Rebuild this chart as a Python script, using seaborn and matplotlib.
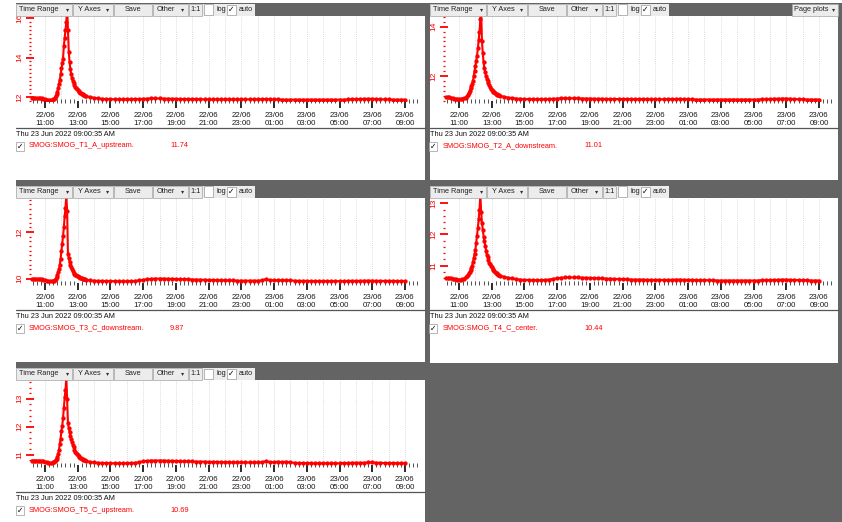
import numpy as np
import pandas as pd
import matplotlib
matplotlib.use("Agg")
import matplotlib.pyplot as plt
from matplotlib.patches import Rectangle
from matplotlib.ticker import FixedLocator, MultipleLocator
import seaborn as sns

# ---------------- data ----------------
# sample times, hours since 22/06 00:00 (archiver sampling grid)
hours = np.round(np.concatenate([
    np.arange(10.2, 11.51, 0.1),
    np.arange(11.55, 13.501, 0.05),
    np.arange(13.75, 33.001, 0.25),
]), 2)

t1_a_upstream = [
    11.95, 11.95, 11.94, 11.95, 11.94, 11.94, 11.93, 11.91, 11.88, 11.86, 11.85, 11.85, 11.86, 11.88,
    11.92, 11.97, 12.05, 12.15, 12.28, 12.45, 12.65, 12.88, 13.15, 13.45,
    13.70, 13.95, 14.60, 15.00, 15.40, 15.80, 16.50, 15.40, 14.30, 13.75,
    13.40, 13.15, 12.95, 12.82, 12.70, 12.62, 12.53, 12.46, 12.40, 12.35,
    12.30, 12.26, 12.22, 12.19, 12.16, 12.13, 12.11, 12.09, 12.07, 12.05,
    12.00,
    11.96, 11.93, 11.91, 11.90, 11.89, 11.89, 11.88, 11.88, 11.88, 11.88, 11.89, 11.90,
    11.91, 11.92, 11.93, 11.93, 11.93, 11.92, 11.92, 11.91, 11.91, 11.90, 11.90, 11.89,
    11.89, 11.89, 11.89, 11.88, 11.88, 11.88, 11.88, 11.88, 11.88, 11.88, 11.88, 11.88,
    11.88, 11.88, 11.89, 11.88, 11.88, 11.89, 11.90, 11.88, 11.88, 11.88, 11.87, 11.87,
    11.87, 11.87, 11.87, 11.87, 11.87, 11.87, 11.87, 11.87, 11.87, 11.87, 11.87, 11.87,
    11.87, 11.87, 11.88, 11.88, 11.89, 11.90, 11.91, 11.91, 11.91, 11.90, 11.89, 11.88,
    11.88, 11.87, 11.87, 11.87, 11.87,
]

t2_a_downstream = [
    11.15, 11.15, 11.14, 11.13, 11.11, 11.09, 11.08, 11.07, 11.07, 11.07, 11.08, 11.10, 11.13, 11.18,
    11.25, 11.33, 11.41, 11.50, 11.60, 11.69, 11.80, 12.00, 12.20, 12.42,
    12.62, 12.83, 13.12, 13.45, 13.80, 14.30, 14.70, 13.40, 12.92, 12.55,
    12.31, 12.15, 12.00, 11.90, 11.80, 11.70, 11.62, 11.55, 11.49, 11.43,
    11.40, 11.37, 11.34, 11.31, 11.28, 11.26, 11.25, 11.23, 11.22, 11.21,
    11.16,
    11.13, 11.11, 11.09, 11.08, 11.07, 11.07, 11.06, 11.06, 11.06, 11.06, 11.07, 11.08,
    11.09, 11.10, 11.10, 11.10, 11.10, 11.10, 11.09, 11.09, 11.09, 11.08, 11.08, 11.08,
    11.07, 11.07, 11.07, 11.07, 11.07, 11.07, 11.06, 11.06, 11.06, 11.06, 11.06, 11.06,
    11.06, 11.06, 11.06, 11.06, 11.06, 11.07, 11.08, 11.06, 11.06, 11.06, 11.05, 11.05,
    11.05, 11.05, 11.05, 11.05, 11.05, 11.05, 11.05, 11.05, 11.05, 11.05, 11.05, 11.05,
    11.05, 11.05, 11.06, 11.06, 11.07, 11.08, 11.08, 11.09, 11.09, 11.08, 11.07, 11.06,
    11.06, 11.05, 11.05, 11.05, 11.05,
]

t3_c_downstream = [
    9.99, 9.99, 9.98, 9.99, 9.98, 9.98, 9.97, 9.96, 9.93, 9.90, 9.88, 9.88, 9.88, 9.89,
    9.91, 9.95, 10.00, 10.07, 10.16, 10.27, 10.40, 10.60, 10.86, 11.17,
    11.47, 11.82, 12.20, 12.70, 13.05, 13.60, 12.90, 11.05, 10.88, 10.72,
    10.60, 10.50, 10.40, 10.31, 10.25, 10.20, 10.17, 10.14, 10.11, 10.09,
    10.07, 10.05, 10.04, 10.02, 10.01, 10.00, 9.99, 9.98, 9.97, 9.96,
    9.92,
    9.91, 9.90, 9.90, 9.89, 9.89, 9.89, 9.88, 9.88, 9.88, 9.89, 9.90, 9.92,
    9.95, 9.97, 9.99, 10.00, 10.00, 10.00, 9.99, 9.99, 9.98, 9.98, 9.97, 9.97,
    9.96, 9.96, 9.95, 9.95, 9.94, 9.94, 9.93, 9.93, 9.92, 9.92, 9.92, 9.91,
    9.91, 9.91, 9.91, 9.91, 9.91, 9.92, 9.98, 9.93, 9.92, 9.94, 9.92, 9.93,
    9.92, 9.91, 9.90, 9.90, 9.90, 9.89, 9.89, 9.89, 9.89, 9.89, 9.89, 9.89,
    9.89, 9.89, 9.90, 9.90, 9.90, 9.90, 9.91, 9.91, 9.91, 9.90, 9.90, 9.90,
    9.90, 9.90, 9.89, 9.89, 9.89,
]

t4_c_center = [
    10.60, 10.60, 10.60, 10.59, 10.58, 10.57, 10.56, 10.55, 10.55, 10.55, 10.56, 10.58, 10.62, 10.67,
    10.70, 10.75, 10.80, 10.86, 10.93, 11.00, 11.10, 11.24, 11.38, 11.51,
    11.74, 11.95, 12.20, 12.48, 12.79, 13.30, 12.73, 12.38, 12.15, 11.93,
    11.78, 11.62, 11.48, 11.35, 11.26, 11.17, 11.09, 11.04, 10.99, 10.94,
    10.90, 10.86, 10.82, 10.79, 10.77, 10.75, 10.73, 10.71, 10.70, 10.68,
    10.64,
    10.61, 10.59, 10.56, 10.55, 10.54, 10.54, 10.53, 10.53, 10.53, 10.54, 10.55, 10.57,
    10.59, 10.61, 10.62, 10.62, 10.62, 10.62, 10.61, 10.61, 10.60, 10.60, 10.59, 10.59,
    10.58, 10.58, 10.57, 10.57, 10.56, 10.56, 10.55, 10.55, 10.55, 10.55, 10.54, 10.54,
    10.54, 10.54, 10.54, 10.54, 10.54, 10.55, 10.55, 10.54, 10.54, 10.54, 10.53, 10.53,
    10.53, 10.53, 10.53, 10.52, 10.52, 10.52, 10.52, 10.52, 10.52, 10.52, 10.52, 10.52,
    10.52, 10.52, 10.53, 10.53, 10.53, 10.54, 10.54, 10.55, 10.55, 10.54, 10.54, 10.53,
    10.53, 10.53, 10.52, 10.52, 10.52,
]

t5_c_upstream = [
    10.79, 10.79, 10.78, 10.79, 10.78, 10.78, 10.77, 10.76, 10.74, 10.72, 10.71, 10.71, 10.71, 10.72,
    10.74, 10.77, 10.81, 10.86, 10.92, 11.02, 11.17, 11.37, 11.57, 11.83,
    12.02, 12.30, 12.68, 13.05, 13.30, 13.80, 13.00, 12.12, 11.95, 11.80,
    11.67, 11.55, 11.45, 11.35, 11.26, 11.17, 11.11, 11.06, 11.02, 10.97,
    10.94, 10.91, 10.89, 10.87, 10.85, 10.83, 10.82, 10.81, 10.80, 10.79,
    10.74,
    10.72, 10.71, 10.70, 10.70, 10.69, 10.69, 10.69, 10.69, 10.69, 10.70, 10.71, 10.73,
    10.76, 10.78, 10.79, 10.79, 10.79, 10.79, 10.78, 10.78, 10.77, 10.77, 10.76, 10.76,
    10.76, 10.75, 10.75, 10.75, 10.74, 10.74, 10.74, 10.73, 10.73, 10.73, 10.72, 10.72,
    10.72, 10.72, 10.72, 10.72, 10.72, 10.73, 10.77, 10.73, 10.73, 10.75, 10.73, 10.75,
    10.72, 10.71, 10.70, 10.70, 10.70, 10.69, 10.69, 10.69, 10.69, 10.69, 10.69, 10.69,
    10.69, 10.70, 10.70, 10.71, 10.71, 10.71, 10.71, 10.72, 10.72, 10.71, 10.71, 10.70,
    10.70, 10.70, 10.69, 10.69, 10.69,
]

series_values = [t1_a_upstream, t2_a_downstream, t3_c_downstream, t4_c_center, t5_c_upstream]
series_names = ["SMOG:SMOG_T1_A_upstream.", "SMOG:SMOG_T2_A_downstream.",
                "SMOG:SMOG_T3_C_downstream.", "SMOG:SMOG_T4_C_center.",
                "SMOG:SMOG_T5_C_upstream."]
current_values = ["11.74", "11.01", "9.87", "10.44", "10.69"]
y_ticks = [[12, 14, 16], [12, 14], [10, 12], [11, 12, 13], [11, 12, 13]]
y_limits = [(11.80, 16.10), (10.99, 14.43), (9.81, 13.47), (10.44, 13.17), (10.63, 13.67)]
tick_hours = [11, 13, 15, 17, 19, 21, 23, 25, 27, 29, 31, 33]
tick_labels = ["22/06\n11:00", "22/06\n13:00", "22/06\n15:00", "22/06\n17:00",
               "22/06\n19:00", "22/06\n21:00", "22/06\n23:00", "23/06\n01:00",
               "23/06\n03:00", "23/06\n05:00", "23/06\n07:00", "23/06\n09:00"]
date_text = "Thu 23 Jun 2022 09:00:35 AM"
toolbar_buttons = ["Time Range", "Y Axes", "Save", "Other", "1:1"]

for v in series_values:
    assert len(v) == len(hours), len(v)

# ---------------- layout ----------------
sns.set_theme(style="white")
plt.rcParams['font.family'] = ['Liberation Sans', 'DejaVu Sans']

W, H = 842, 522
fig = plt.figure(figsize=(W / 100, H / 100), dpi=100)
fig.patch.set_facecolor('white')
DARK = '#646464'
BTN = '#ececec'
BTN_EC = '#a4a4a4'
RED = '#ff0000'
FS = 5.3


def fx(x):
    return x / W


def fy(y):
    return 1 - y / H


def frect(x0, y0, x1, y1, fc, ec='none', lw=0.0, z=1):
    fig.patches.append(Rectangle((fx(x0), fy(y1)), (x1 - x0) / W, (y1 - y0) / H,
                                 transform=fig.transFigure, facecolor=fc,
                                 edgecolor=ec, linewidth=lw, zorder=z))


def ftext(x, y, s, **kw):
    kw.setdefault('fontsize', FS)
    kw.setdefault('va', 'center')
    fig.text(fx(x), fy(y), s, **kw)


def checkbox(x0, y0, x1, y1, checked):
    frect(x0, y0, x1, y1, 'white', ec='#9a9a9a', lw=0.5, z=2)
    if checked:
        ftext((x0 + x1) / 2, (y0 + y1) / 2 + 0.5, '\u2713', ha='center',
              fontsize=5.5, color='black', fontweight='bold')


def toolbar(x0, gy0, y1, right):
    frect(x0, gy0, right, y1, DARK)
    b0, b1 = y1 - 12.5, y1 - 0.5
    frect(x0, b0, x0 + 239, b1, BTN, z=1.5)
    specs = [(0, 56, 23, 52), (57, 97, 73, 92), (98, 136, 117, None),
             (137, 172, 150, 167), (173, 186, 179.5, None)]
    for lab, (a, b, c, arr) in zip(toolbar_buttons, specs):
        frect(x0 + a, b0, x0 + b, b1, BTN, ec=BTN_EC, lw=0.5, z=2)
        ftext(x0 + c, (b0 + b1) / 2, lab, ha='center', color='#222222')
        if arr is not None:
            ftext(x0 + arr, (b0 + b1) / 2, '\u25be', ha='center', fontsize=4.5, color='#333333')
    checkbox(x0 + 187.5, b0 + 1, x0 + 197, b1 - 1, False)
    ftext(x0 + 205, (b0 + b1) / 2, 'log', ha='center', color='#222222')
    checkbox(x0 + 211, b0 + 1.5, x0 + 220, b1 - 1, True)
    ftext(x0 + 230, (b0 + b1) / 2, 'auto', ha='center', color='#222222')


# background structure
frect(425, 3, 430, 363, DARK)      # column separator
frect(838, 3, 842, 363, DARK)      # right edge
frect(425, 363, 842, 522, DARK)    # empty bottom-right area

panel_offsets = [(0, 0), (414, 0), (0, 182), (414, 182), (0, 364)]
label_for = dict(zip(tick_hours, tick_labels))

for i, (dx, dy) in enumerate(panel_offsets):
    left_col = dx == 0
    x0 = 16 if left_col else 430
    right = 425 if left_col else 838
    gtop = 3 if dy == 0 else dy - 2
    toolbar(x0, gtop, 16 + dy, right)

    ax = fig.add_axes([fx(30 + dx), fy(101 + dy), 390 / W, 85 / H])
    ax.set_facecolor('white')
    df = pd.DataFrame({'hours': hours, 'value': series_values[i]})
    sns.lineplot(data=df, x='hours', y='value', ax=ax, color=RED, marker='o',
                 markersize=3.1, markeredgewidth=0, linewidth=1.5,
                 estimator=None, legend=False, zorder=3)
    ax.set_xlim(10.08, 33.92)
    ax.set_ylim(*y_limits[i])
    for h in range(11, 34):
        ax.axvline(h, color='#cfcfcf', ls=(0, (1, 1.5)), lw=0.6, zorder=0)
    for s in ax.spines.values():
        s.set_visible(False)
    ax.set_xlabel('')
    ax.set_ylabel('')

    ax.xaxis.set_major_locator(FixedLocator(tick_hours))
    ax.set_xticklabels([label_for[h] for h in tick_hours])
    ax.xaxis.set_minor_locator(MultipleLocator(0.25))
    ax.tick_params(axis='x', which='major', bottom=True, length=5, width=1.3,
                   color='#1a1a1a', direction='out', pad=3, labelsize=5.7,
                   labelcolor='#1a1a1a')
    ax.tick_params(axis='x', which='minor', bottom=True, length=3, width=0.6,
                   color='#333333', direction='inout')
    for t in ax.get_xticklabels():
        t.set_linespacing(1.15)

    ax.set_yticks(y_ticks[i])
    ax.set_yticklabels([str(v) for v in y_ticks[i]], rotation=90, va='center')
    ax.yaxis.set_minor_locator(MultipleLocator(0.2))
    ax.tick_params(axis='y', which='major', left=True, length=6, width=1.3,
                   color=RED, direction='inout', pad=1.5, labelsize=6.0, labelcolor=RED)
    ax.tick_params(axis='y', which='minor', left=True, length=2, width=0.9,
                   color=RED, direction='inout')

    # lower info area
    fig.add_artist(plt.Line2D([fx(x0), fx(right)], [fy(128 + dy)] * 2,
                              transform=fig.transFigure, color='#555555', lw=0.9))
    ftext(x0 + 0.5, 135 + dy, date_text, ha='left', color='#111111')
    cbx = x0 if left_col else x0 - 1
    checkbox(cbx, 142 + dy, cbx + 7.5, 151 + dy, True)
    ftext(29 + dx, 146 + dy, series_names[i], ha='left', color=RED)
    ftext(170 + dx, 146 + dy, current_values[i], ha='left', color=RED)

# "Page plots" button on the top-right toolbar
frect(792, 3.5, 838, 15.5, BTN, ec=BTN_EC, lw=0.5, z=2)
ftext(811, 9.5, 'Page plots', ha='center', color='#222222')
ftext(834, 9.5, '\u25be', ha='center', fontsize=4.5, color='#333333')

fig.savefig('out.png', dpi=100)
